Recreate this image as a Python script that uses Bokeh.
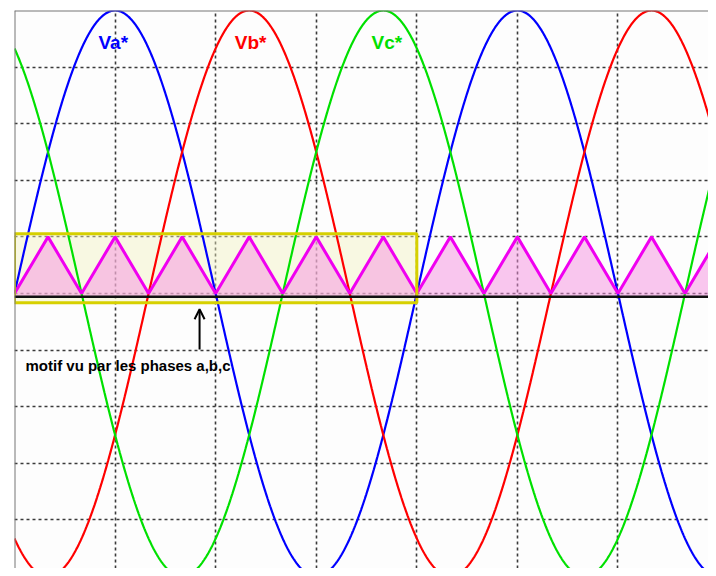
import numpy as np
from bokeh.plotting import figure
from bokeh.models import Range1d, FixedTicker, Span, Arrow, OpenHead, Label
from bokeh.embed import file_html
from bokeh.resources import INLINE

# ---- data ----
amplitude = 5.0                      # peak value of the references
period = 4.0                         # one period spans 4 grid divisions
phase_names = ["Va*", "Vb*", "Vc*"]
phase_peaks = [1.0, 1.0 + 4.0 / 3.0, 1.0 + 8.0 / 3.0]   # x of first crest
phase_colors = ["#0000ff", "#ff0000", "#00e000"]
label_x = [0.835, 2.19, 3.55]
label_y = [4.43, 4.43, 4.43]

carrier_x = [0, 1/3, 2/3, 1, 4/3, 5/3, 2, 7/3, 8/3, 3, 10/3, 11/3, 4,
             13/3, 14/3, 5, 16/3, 17/3, 6, 19/3, 20/3, 7]
carrier_y = [0, 1, 0, 1, 0, 1, 0, 1, 0, 1, 0, 1, 0,
             1, 0, 1, 0, 1, 0, 1, 0, 1]
baseline_y = -0.06

motif_box_x = [0.0, 4.0]
motif_box_y = [-0.165, 1.055]
motif_text = "motif vu par les phases a,b,c"
arrow_x = 1.84
arrow_y = [-0.99, -0.28]

x_ticks = [1, 2, 3, 4, 5, 6]
y_ticks = [-4, -3, -2, -1, 0, 1, 2, 3, 4]

# ---- figure ----
p = figure(width=708, height=568, output_backend="svg", toolbar_location=None,
           x_range=Range1d(0, 6.9), y_range=Range1d(-4.86, 5),
           min_border_left=14, min_border_top=10, min_border_right=0,
           min_border_bottom=0)
p.xaxis.visible = False
p.yaxis.visible = False
p.outline_line_color = None
p.background_fill_color = "#fdfdfd"
p.border_fill_color = "white"

p.xgrid.ticker = FixedTicker(ticks=x_ticks)
p.ygrid.ticker = FixedTicker(ticks=y_ticks)
for g in (p.xgrid, p.ygrid):
    g.grid_line_color = "#3a3a3a"
    g.grid_line_width = 1.6
    g.grid_line_dash = "3 3"

# motif box fill
p.quad(left=motif_box_x[0], right=motif_box_x[1], bottom=motif_box_y[0],
       top=motif_box_y[1], fill_color="#f2f2c0", fill_alpha=0.45,
       line_color=None)

# carrier fill
cx = np.array(carrier_x)
cy = np.array(carrier_y)
p.varea(x=cx, y1=np.full_like(cx, baseline_y, dtype=float), y2=cy,
        fill_color="#f590e0", fill_alpha=0.5)

# references
t = np.linspace(0, 7, 1400)
for peak, col in zip(phase_peaks, phase_colors):
    p.line(t, amplitude * np.cos(2 * np.pi * (t - peak) / period),
           line_color=col, line_width=2.2)

# carrier line
p.line(cx, cy, line_color="#f000f0", line_width=3)

# baseline
p.add_layout(Span(location=baseline_y, dimension="width", line_color="#111111",
                  line_width=2.5))

# motif box border
p.quad(left=motif_box_x[0], right=motif_box_x[1], bottom=motif_box_y[0],
       top=motif_box_y[1], fill_color=None, line_color="#d6d000",
       line_width=3)

# frame edges
p.add_layout(Span(location=0, dimension="height", line_color="#777777", line_width=2))
p.add_layout(Span(location=5, dimension="width", line_color="#777777", line_width=2))

# labels
for name, lx, ly, col in zip(phase_names, label_x, label_y, phase_colors):
    p.add_layout(Label(x=lx, y=ly, text=name, text_color=col,
                       text_font="Liberation Sans", text_font_style="bold",
                       text_font_size="19px", text_baseline="middle",
                       text_align="left"))

p.add_layout(Arrow(x_start=arrow_x, y_start=arrow_y[0], x_end=arrow_x,
                   y_end=arrow_y[1], line_color="black", line_width=2,
                   end=OpenHead(size=10, line_color="black", line_width=2)))
p.add_layout(Label(x=0.109, y=-1.27, text=motif_text, text_color="black",
                   text_font="Liberation Sans", text_font_style="bold",
                   text_font_size="15px", text_baseline="middle",
                   text_align="left"))

open("out.html", "w").write(file_html(p, INLINE))
